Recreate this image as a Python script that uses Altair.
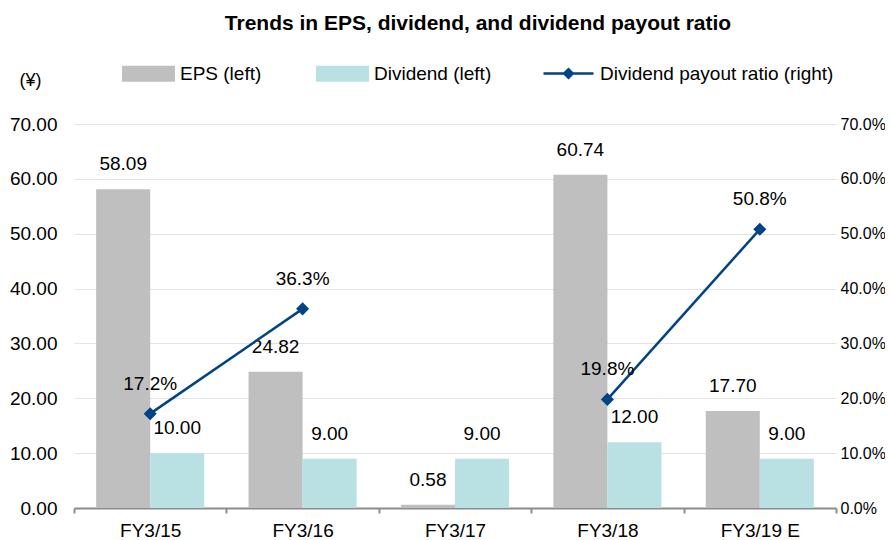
import altair as alt
import pandas as pd

categories = ["FY3/15", "FY3/16", "FY3/17", "FY3/18", "FY3/19 E"]
eps = [58.09, 24.82, 0.58, 60.74, 17.70]
dividend = [10.00, 9.00, 9.00, 12.00, 9.00]
payout = [17.2, 36.3, None, 19.8, 50.8]
segments = [1, 1, 0, 2, 2]
series_names = ["EPS (left)", "Dividend (left)"]
line_name = "Dividend payout ratio (right)"
bar_colors = ["#bfbfbf", "#b9e0e3"]
line_color = "#004386"

rows = []
for i, c in enumerate(categories):
    rows.append({"category": c, "series": series_names[0], "value": eps[i]})
    rows.append({"category": c, "series": series_names[1], "value": dividend[i]})
bars_df = pd.DataFrame(rows)

line_rows = []
for i, c in enumerate(categories):
    if payout[i] is not None:
        line_rows.append({"category": c, "ratio": payout[i] / 100.0,
                          "segment": segments[i], "name": line_name})
line_df = pd.DataFrame(line_rows)

FONT = "Liberation Sans"

x_enc = alt.X("category:N", sort=categories,
              scale=alt.Scale(paddingInner=0, paddingOuter=0),
              axis=alt.Axis(title=None, labelAngle=0, labelFont=FONT, labelFontSize=19,
                            labelColor="#000", domainColor="#8c8c8c", domainWidth=2,
                            tickColor="#8c8c8c", tickWidth=2, tickSize=5, tickBand="extent",
                            labelPadding=8, grid=False))
xoff = alt.XOffset("series:N", sort=series_names,
                   scale=alt.Scale(paddingOuter=0.41, paddingInner=0))

y_left = alt.Y("value:Q", scale=alt.Scale(domain=[0, 70], nice=False),
               axis=alt.Axis(title="(¥)", titleAngle=0, titleX=-44, titleY=-44,
                             titleAlign="center", titleBaseline="middle",
                             titleFont=FONT, titleFontSize=18, titleFontWeight="normal",
                             titleColor="#000",
                             values=[0, 10, 20, 30, 40, 50, 60, 70], format=".2f",
                             labelFont=FONT, labelFontSize=19, labelColor="#000",
                             labelPadding=17, domain=False, ticks=False,
                             grid=True, gridColor="#e3e3e3", gridWidth=1))

bars = alt.Chart(bars_df).mark_bar().encode(
    x=x_enc, xOffset=xoff, y=y_left,
    color=alt.Color("series:N", sort=series_names,
                    scale=alt.Scale(domain=series_names, range=bar_colors),
                    legend=alt.Legend(title=None, orient="none", direction="horizontal",
                                      legendX=48, legendY=-77,
                                      symbolType="M-1,-0.3H1V0.3H-1Z", symbolSize=2809,
                                      symbolStrokeWidth=0, symbolOpacity=1,
                                      labelFont=FONT, labelFontSize=19, labelColor="#000",
                                      labelOffset=5, columnPadding=54, labelLimit=0)))

bar_labels = alt.Chart(bars_df).mark_text(font=FONT, fontSize=19, color="#000",
                                          baseline="middle", dy=-25).encode(
    x=alt.X("category:N", sort=categories), xOffset=xoff,
    y=alt.Y("value:Q"), text=alt.Text("value:Q", format=".2f"))

left = alt.layer(bars, bar_labels)

y_right = alt.Y("ratio:Q", scale=alt.Scale(domain=[0, 0.7], nice=False),
                axis=alt.Axis(title=None, orient="right",
                              values=[0, 0.1, 0.2, 0.3, 0.4, 0.5, 0.6, 0.7], format=".1%",
                              labelFont=FONT, labelFontSize=16, labelColor="#000",
                              labelPadding=4, domain=False, ticks=False, grid=False))

line = alt.Chart(line_df).mark_line(strokeWidth=2.5).encode(
    x=alt.X("category:N", sort=categories), y=y_right, detail="segment:N",
    stroke=alt.Stroke("name:N", scale=alt.Scale(domain=[line_name], range=[line_color]),
                      legend=alt.Legend(title=None, orient="none", legendX=468, legendY=-77,
                                        symbolType="M-1,0H1M-0.17,0L0,-0.17L0.17,0L0,0.17Z",
                                        symbolSize=2500, symbolStrokeWidth=2.5,
                                        symbolFillColor=line_color,
                                        labelFont=FONT, labelFontSize=19, labelColor="#000",
                                        labelOffset=5, labelLimit=0)))

points = alt.Chart(line_df).mark_point(shape="diamond", filled=True, size=170,
                                       color=line_color, opacity=1).encode(
    x=alt.X("category:N", sort=categories), y=alt.Y("ratio:Q"))

line_labels = alt.Chart(line_df).mark_text(font=FONT, fontSize=19, color="#000",
                                           baseline="middle", dy=-30).encode(
    x=alt.X("category:N", sort=categories), y=alt.Y("ratio:Q"),
    text=alt.Text("ratio:Q", format=".1%"))

right = alt.layer(line, points, line_labels)

chart = alt.layer(left, right).resolve_scale(y="independent").properties(
    width=762, height=384,
    title=alt.TitleParams("Trends in EPS, dividend, and dividend payout ratio",
                          font=FONT, fontSize=21, fontWeight="bold", color="#000",
                          anchor="middle", dx=23, offset=13),
    autosize=alt.AutoSizeParams(type="none"),
    padding={"left": 66, "top": 116, "right": 49, "bottom": 31},
).configure_view(stroke=None)

chart.save("out.html", embed_options={"renderer": "svg", "actions": False})
